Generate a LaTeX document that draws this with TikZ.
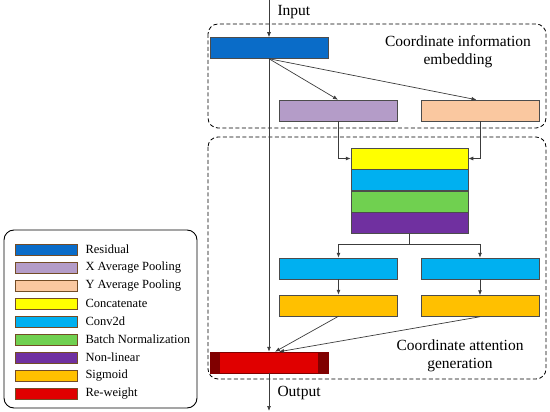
\documentclass[tikz,border=0pt]{standalone}
\usepackage{fontspec}
\setmainfont{Liberation Serif}
\usetikzlibrary{positioning}
\usetikzlibrary{arrows.meta}
\usetikzlibrary{calc}

\definecolor{resblue}{HTML}{0A6CC8}
\definecolor{xpoolc}{HTML}{B49CC8}
\definecolor{ypoolc}{HTML}{FAC8A0}
\definecolor{catc}{HTML}{FFFF00}
\definecolor{convc}{HTML}{00B0F0}
\definecolor{bnc}{HTML}{70D050}
\definecolor{nlc}{HTML}{7030A0}
\definecolor{sigc}{HTML}{FFC000}
\definecolor{rewc}{HTML}{E00000}
\definecolor{linec}{HTML}{3C3C3C}

\begin{document}
\begin{tikzpicture}[x=1pt, y=-1pt,
    every node/.style={font=\fontsize{15.5}{18}\selectfont},
    layer/.style={draw=black!70, line width=0.5pt, minimum width=118pt, minimum height=21pt, inner sep=0pt},
    swatch/.style={draw=brown!60!black, line width=0.6pt, minimum width=62pt, minimum height=11pt, inner sep=0pt},
    arr/.style={draw=linec, line width=0.7pt, -{Latex[length=5pt, width=4pt]}},
    group/.style={draw=black, line width=0.8pt, dash pattern=on 4pt off 2.5pt, rounded corners=10pt}]

        \useasboundingbox (0,0) rectangle (550,412);

        % Dashed groups
        \draw[group] (208,24) rectangle (546,128);
        \draw[group] (208,137) rectangle (546,379);

        % Coordinate information embedding
        \node[layer, fill=resblue] (res) at (269,48) {};
        \node[layer, fill=xpoolc] (xpool) at (338,110.5) {};
        \node[layer, fill=ypoolc] (ypool) at (480.5,110.5) {};
        \node[align=center] (embtext) at (458,52) {Coordinate information\\embedding};

        % Stacked block
        \node[layer, fill=catc, minimum width=117pt] (cat) at (409.5,158.5) {};
        \node[layer, fill=convc, minimum width=117pt, below=0pt of cat] (conv) {};
        \node[layer, fill=bnc, minimum width=117pt, below=0pt of conv] (bn) {};
        \node[layer, fill=nlc, minimum width=117pt, below=0pt of bn] (nl) {};

        % Two branches
        \node[layer, fill=convc] (convl) at (338.5,268.5) {};
        \node[layer, fill=convc] (convr) at (480,268.5) {};
        \node[layer, fill=sigc] (sigl) at (338.5,305.5) {};
        \node[layer, fill=sigc] (sigr) at (480,306) {};

        % Re-weight
        \node[layer, fill=rewc, draw=red!50!black] (rew) at (269,362.5) {};
        \fill[red!50!black] (rew.north west) rectangle ++(10,21);
        \fill[red!50!black] (rew.north east) rectangle ++(-10,21);
        \node[align=center] (gentext) at (460,356) {Coordinate attention\\generation};

        % Connectors
        \coordinate (in) at (269,0);
        \coordinate (out) at (269,411);
        \coordinate (split) at ($(nl.south)+(0,11)$);
        \coordinate (joinl) at ($(rew.north)+(6,0)$);
        \coordinate (joinr) at ($(rew.north)+(10,0)$);

        \draw[arr] (in) -- (res.north);
        \draw[arr] (res.south) -- (xpool.north);
        \draw[arr] (res.south) -- ($(ypool.north)+(-4,0)$);
        \draw[arr] (res.south) -- (rew.north);
        \draw[arr] (xpool.south) |- (cat.west);
        \draw[arr] (ypool.south) |- (cat.east);
        \draw[draw=linec, line width=0.7pt] (nl.south) -- (split);
        \draw[arr] (split) -| (convl.north);
        \draw[arr] (split) -| (convr.north);
        \draw[arr] (convl.south) -- (sigl.north);
        \draw[arr] (convr.south) -- (sigr.north);
        \draw[arr] (sigl.south) -- (joinl);
        \draw[arr] (sigr.south) -- (joinr);
        \draw[arr] (rew.south) -- (out);

        \node[anchor=west] (inlabel) at (274,12) {Input};
        \node[anchor=west] (outlabel) at (274,393) {Output};

        % Legend
        \draw[line width=0.9pt, rounded corners=10pt] (4,230) rectangle (197,408);
        \foreach \c/\t [count=\i from 0] in {resblue/Residual, xpoolc/X Average Pooling,
            ypoolc/Y Average Pooling, catc/Concatenate, convc/Conv2d, bnc/Batch Normalization,
            nlc/Non-linear, sigc/Sigmoid, rewc/Re-weight} {
            \node[swatch, fill=\c] (sw\i) at (46,249.5+18*\i) {};
            \node[anchor=west, font=\fontsize{12.5}{14}\selectfont] (lab\i) at (82,249.5+18*\i) {\t};
        }

    \end{tikzpicture}
\end{document}
